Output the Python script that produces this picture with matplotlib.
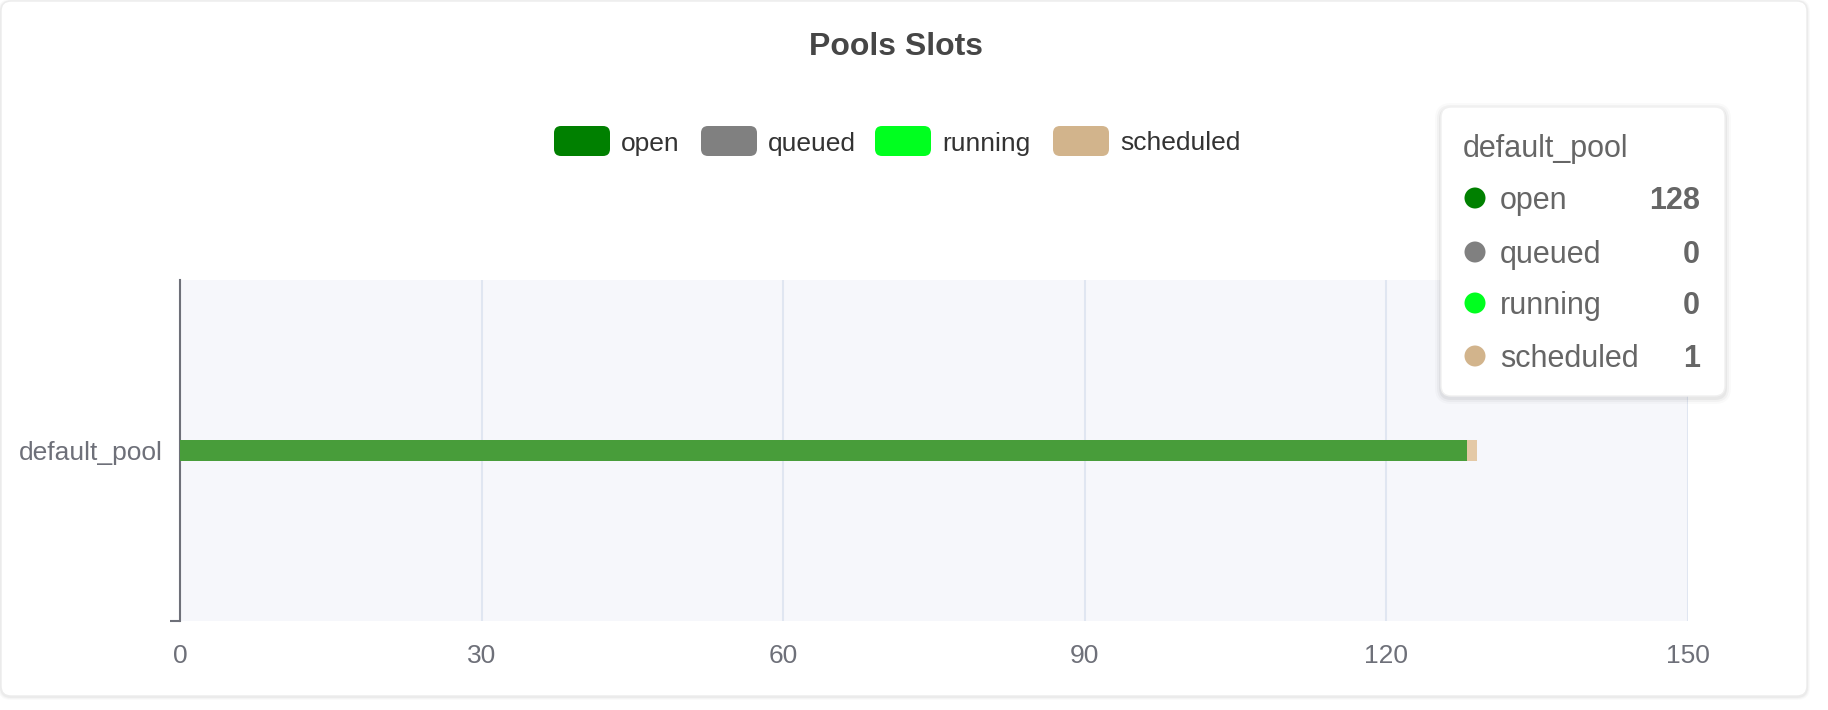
import matplotlib
matplotlib.use('Agg')
import matplotlib.pyplot as plt
from matplotlib.patches import FancyBboxPatch, Circle
from matplotlib.transforms import IdentityTransform
import numpy as np

##########Data
pools = ['default_pool']
series = ['open', 'queued', 'running', 'scheduled']
open_slots = [128]
queued_slots = [0]
running_slots = [0]
scheduled_slots = [1]
legend_colors = ['#008000', '#808080', '#00ff1f', '#d2b48c']
bar_colors = ['#489d3a', '#9a9a9a', '#4dff5e', '#e4c9a6']
xticks = [0, 30, 60, 90, 120, 150]

##########Figure
W, H = 1828, 710
plt.rcParams['font.family'] = ['Liberation Sans', 'DejaVu Sans']
fig = plt.figure(figsize=(W / 100, H / 100), dpi=100)
fig.patch.set_facecolor('white')
px = IdentityTransform()


def box(x, y, w, h, r, **kw):
    # pixel box, top-left origin like the screenshot
    p = FancyBboxPatch((x, H - y - h), w, h,
                       boxstyle=f'round,pad=0,rounding_size={r}',
                       transform=px, **kw)
    fig.add_artist(p)
    return p


#####card with soft shadow
for i, a in enumerate([0.018, 0.025, 0.035]):
    d = 3 - i
    box(1 - d, 1 - d + 1, 1806 + 2 * d, 695 + 2 * d, 10 + d,
        fc='black', ec='none', alpha=a, zorder=-3)
box(1, 1, 1806, 695, 10, fc='white', ec='#ececec', lw=1, zorder=-2)

#####title
fig.text(896 / W, 1 - 47 / H, 'Pools Slots', ha='center', va='center',
         fontsize=23, fontweight='bold', color='#464646')

#####legend
leg_x = [554, 701, 875, 1053]
for name, c, x in zip(series, legend_colors, leg_x):
    box(x, 126, 56, 30, 7, fc=c, ec='none', zorder=2)
    fig.text((x + 67) / W, 1 - 143.5 / H, name, ha='left', va='center',
             fontsize=19, color='#333333')

#####bars
ax = fig.add_axes([180 / W, 1 - 621 / H, 1508 / W, 341 / H])
ax.set_facecolor('#f6f7fb')
left = np.zeros(len(pools))
for name, vals, c in zip(series,
                         [open_slots, queued_slots, running_slots, scheduled_slots],
                         bar_colors):
    ax.barh(pools, vals, left=left, height=0.062, color=c, zorder=3)
    left = left + np.array(vals)

ax.set_xlim(0, 150)
ax.set_ylim(-0.5, 0.5)
ax.set_xticks(xticks)
ax.set_xticklabels([str(t) for t in xticks])
ax.grid(axis='x', color='#e0e6f1', lw=1.5, zorder=0)
ax.set_axisbelow(True)
for s in ['top', 'right', 'bottom']:
    ax.spines[s].set_visible(False)
ax.spines['left'].set_color('#6e7079')
ax.spines['left'].set_linewidth(1.5)
ax.tick_params(axis='x', length=0, labelsize=19, labelcolor='#6e7079', pad=16.5)
ax.tick_params(axis='y', which='major', length=0, labelsize=19,
               labelcolor='#6e7079', pad=12.5)
ax.set_yticks([-0.5], minor=True)
ax.tick_params(axis='y', which='minor', length=7, width=1.5, color='#6e7079')

#####tooltip
for i, a in enumerate([0.02, 0.03, 0.045]):
    d = 6 - 2 * i
    box(1441 - d, 107 - d + 2, 284 + 2 * d, 289 + 2 * d, 10 + d,
        fc='black', ec='none', alpha=a, zorder=5)
box(1441, 107, 284, 289, 10, fc='white', ec='#f0f0f0', lw=1, zorder=6)
fig.text(1463 / W, 1 - 149 / H, pools[0], ha='left', va='center',
         fontsize=22, color='#666666', zorder=7)
row_y = [198, 252, 303, 356]
vals_all = [open_slots[0], queued_slots[0], running_slots[0], scheduled_slots[0]]
for name, c, v, y in zip(series, legend_colors, vals_all, row_y):
    fig.add_artist(Circle((1475, H - y), 10.5, transform=px, fc=c, ec='none', zorder=7))
    fig.text(1500 / W, 1 - (y + 3) / H, name, ha='left', va='center',
             fontsize=22, color='#666666', zorder=7)
    fig.text(1700 / W, 1 - (y + 3) / H, str(v), ha='right', va='center',
             fontsize=22, fontweight='bold', color='#666666', zorder=7)

plt.savefig('out.png', dpi=100)
